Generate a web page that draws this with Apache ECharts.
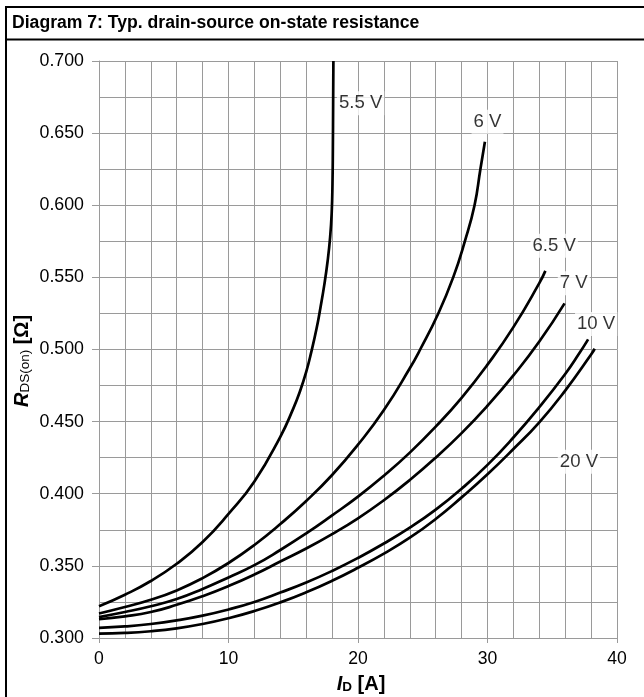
<!DOCTYPE html>
<html>
<head>
<meta charset="utf-8">
<script src="https://cdn.jsdelivr.net/npm/echarts@6/dist/echarts.min.js"></script>
<style>
html,body{margin:0;padding:0;background:#fff;}
#chart{width:644px;height:697px;}
</style>
</head>
<body>
<div id="chart"></div>
<script>
// ---- data ----
const seriesNames = ['5.5 V', '6 V', '6.5 V', '7 V', '10 V', '20 V'];

const id55 = [0, 2, 4, 6, 8, 10, 12, 14, 15, 15.5, 16, 16.4, 16.8, 17.1, 17.4, 17.65, 17.85, 17.97, 18.03, 18.06, 18.08, 18.1];
const r55  = [0.322, 0.330, 0.3395, 0.3515, 0.3665, 0.386, 0.4085, 0.4395, 0.459, 0.4705, 0.4845, 0.4985, 0.5145, 0.5290, 0.545, 0.561, 0.578, 0.595, 0.615, 0.640, 0.670, 0.700];

const id6 = [0, 2, 4, 6, 8, 10, 12, 14, 16, 18, 20, 22, 24, 24.8, 26.2, 27.35, 28.25, 29.0, 29.45, 29.8];
const r6  = [0.317, 0.3215, 0.3265, 0.333, 0.3415, 0.352, 0.3645, 0.379, 0.395, 0.413, 0.434, 0.458, 0.487, 0.500, 0.525, 0.550, 0.575, 0.600, 0.625, 0.644];

const id65 = [0, 2, 4, 6, 8, 10, 12, 14, 16, 18, 20, 22, 24, 26, 28, 30, 32, 34, 34.47];
const r65  = [0.3145, 0.318, 0.322, 0.327, 0.334, 0.342, 0.3505, 0.361, 0.3725, 0.385, 0.398, 0.4125, 0.4285, 0.4465, 0.4665, 0.4895, 0.5155, 0.546, 0.5545];

const id7 = [0, 2, 4, 6, 8, 10, 12, 14, 16, 18, 20, 22, 24, 26, 28, 30, 32, 34, 35.95];
const r7  = [0.313, 0.315, 0.318, 0.323, 0.329, 0.336, 0.344, 0.353, 0.362, 0.372, 0.383, 0.3955, 0.4095, 0.425, 0.442, 0.461, 0.482, 0.5055, 0.532];

const id10 = [0, 2, 4, 6, 8, 10, 12, 14, 16, 18, 20, 22, 24, 26, 28, 30, 32, 34, 36, 37.1, 37.77];
const r10  = [0.307, 0.308, 0.3097, 0.3122, 0.3155, 0.3198, 0.325, 0.3315, 0.3385, 0.3465, 0.3555, 0.3655, 0.3765, 0.389, 0.4035, 0.4200, 0.4390, 0.4600, 0.4830, 0.4975, 0.5070];

const id20 = [0, 2, 4, 6, 8, 10, 12, 14, 16, 18, 20, 22, 24, 26, 28, 30, 32, 34, 36, 38, 38.28];
const r20  = [0.303, 0.3035, 0.3047, 0.3067, 0.3097, 0.3137, 0.3187, 0.3247, 0.3317, 0.3397, 0.3487, 0.3585, 0.3695, 0.3825, 0.3975, 0.4135, 0.431, 0.4495, 0.4715, 0.4965, 0.5005];

// label anchor points (data coordinates)
const labelId = [20.2, 30.0, 35.15, 36.66, 38.39, 37.06];
const labelR  = [0.6707, 0.6579, 0.572, 0.546, 0.5177, 0.4221];

// axis ranges / ticks
const xMin = 0, xMax = 40, xStep = 10, xMinorSplit = 5;
const yMin = 0.3, yMax = 0.7, yStep = 0.05, yMinorSplit = 2;

const titleText = 'Diagram 7: Typ. drain-source on-state resistance';

// ---- chart ----
const curvesI = [id55, id6, id65, id7, id10, id20];
const curvesR = [r55, r6, r65, r7, r10, r20];
const FONT = 'Liberation Sans, Arial, sans-serif';
const GRID = '#9a9a9a';

const lineSeries = curvesI.map((xs, k) => ({
  type: 'line',
  name: seriesNames[k],
  data: xs.map((x, i) => [x, curvesR[k][i]]),
  showSymbol: false,
  smooth: 0.5,
  lineStyle: { color: '#000', width: 2.7 },
  z: 3,
  silent: true
}));

const labelSeries = {
  type: 'scatter',
  symbolSize: 0,
  z: 4,
  silent: true,
  data: seriesNames.map((n, k) => ({ name: n, value: [labelId[k], labelR[k]] })),
  label: {
    show: true,
    position: 'inside',
    formatter: p => p.name,
    color: '#000',
    fontSize: 18.6,
    fontFamily: FONT,
    backgroundColor: '#fff',
    padding: [3, 2, 2, 2]
  }
};

const chart = echarts.init(document.getElementById('chart'), null, { renderer: 'canvas' });
chart.setOption({
  animation: false,
  backgroundColor: '#fff',
  grid: { left: 99, right: 27, top: 61, bottom: 59, containLabel: false },
  xAxis: {
    type: 'value',
    min: xMin, max: xMax, interval: xStep,
    axisLine: { show: true, lineStyle: { color: GRID, width: 1 } },
    axisTick: { show: true, length: 5, lineStyle: { color: GRID } },
    minorTick: { show: false, splitNumber: xMinorSplit },
    splitLine: { show: true, lineStyle: { color: GRID, width: 1 } },
    minorSplitLine: { show: true, lineStyle: { color: GRID, width: 1 } },
    axisLabel: { color: '#000', fontSize: 17.6, fontFamily: FONT, margin: 12 }
  },
  yAxis: {
    type: 'value',
    min: yMin, max: yMax, interval: yStep,
    axisLine: { show: true, lineStyle: { color: GRID, width: 1 } },
    axisTick: { show: true, length: 7, lineStyle: { color: GRID } },
    minorTick: { show: false, splitNumber: yMinorSplit },
    splitLine: { show: true, lineStyle: { color: GRID, width: 1 } },
    minorSplitLine: { show: true, lineStyle: { color: GRID, width: 1 } },
    axisLabel: { color: '#000', fontSize: 17.8, fontFamily: FONT, margin: 15, formatter: v => v.toFixed(3) }
  },
  series: lineSeries.concat([labelSeries]),
  graphic: [
    { type: 'rect', shape: { x: 6, y: 7, width: 700, height: 720 }, style: { fill: 'none', stroke: '#000', lineWidth: 2 }, silent: true },
    { type: 'line', shape: { x1: 6, y1: 39.5, x2: 700, y2: 39.5 }, style: { stroke: '#000', lineWidth: 2 }, silent: true },
    { type: 'text', left: 12, top: 14, style: { text: titleText, font: 'bold 17.6px ' + FONT, fill: '#000' }, silent: true },
    {
      type: 'text', x: 361, y: 684, silent: true,
      style: {
        text: '{i|I}{s|D}{b| [A]}',
        align: 'center', verticalAlign: 'middle',
        rich: {
          i: { font: 'italic bold 20px ' + FONT, fill: '#000' },
          s: { font: 'bold 13.5px ' + FONT, fill: '#000', verticalAlign: 'bottom', padding: [6, 0, 0, 0] },
          b: { font: 'bold 20px ' + FONT, fill: '#000' }
        }
      }
    },
    {
      type: 'text', x: 22, y: 361, rotation: Math.PI / 2, silent: true,
      style: {
        text: '{i|R}{s|DS(on)}{b| [Ω]}',
        align: 'center', verticalAlign: 'middle',
        rich: {
          i: { font: 'italic bold 20px ' + FONT, fill: '#000' },
          s: { font: '13.5px ' + FONT, fill: '#000', verticalAlign: 'bottom', padding: [6, 0, 0, 0] },
          b: { font: 'bold 20px ' + FONT, fill: '#000' }
        }
      }
    }
  ]
});
</script>
</body>
</html>
